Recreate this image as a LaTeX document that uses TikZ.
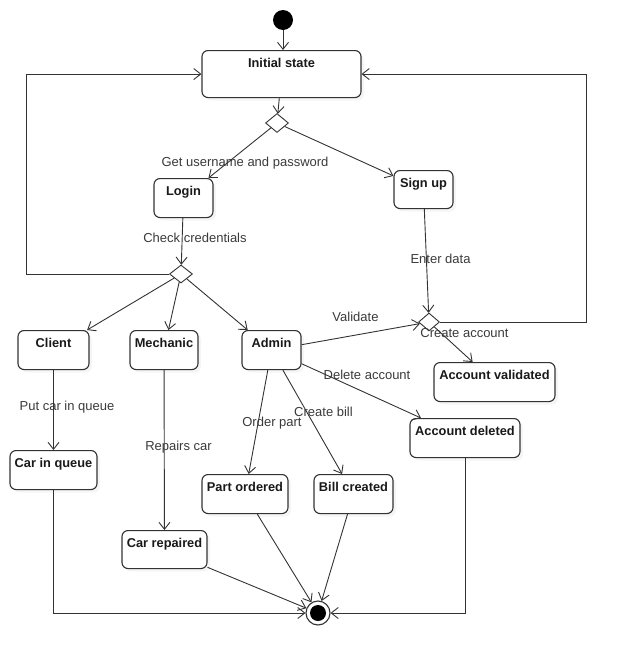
\documentclass[tikz,border=0pt]{standalone}
\usepackage{fontspec}
\setmainfont{Liberation Sans}
\usepackage{tikz}
\usetikzlibrary{shapes.geometric}
\usetikzlibrary{arrows.meta}
\usetikzlibrary{shadows}
\definecolor{linec}{HTML}{333333}
\definecolor{textc}{HTML}{3A3A3A}
\tikzstyle{state}=[draw=linec, fill=white, line width=1.1pt, rounded corners=6pt, anchor=north, inner xsep=0pt, inner ysep=0pt, text height=17pt, text depth=22pt, font=\bfseries\fontsize{12.8}{15}\selectfont, text=black!90, drop shadow={shadow xshift=3pt, shadow yshift=-3pt, opacity=0.08}]
\tikzstyle{decision}=[draw=linec, fill=white, line width=0.9pt, diamond, inner sep=0pt, minimum width=23pt, minimum height=19pt]
\tikzstyle{lbl}=[inner sep=0pt, text height=9pt, text depth=3pt, font=\fontsize{13}{15}\selectfont, text=textc]
\tikzstyle{arr}=[draw=linec, line width=0.9pt, -{Straight Barb[length=7pt, width=11pt]}]

\begin{document}
\begin{tikzpicture}[x=1pt, y=-1pt]
        \useasboundingbox (0,0) rectangle (627,667);
        \node[circle, fill=black, minimum size=20pt, inner sep=0pt] (start) at (283,20) {};
        \node[state, minimum width=159pt, text depth=30pt] (init) at (281.5,50) {Initial state};
        \node[decision] (d1) at (277,123) {};
        \node[state, minimum width=59pt] (login) at (183.5,178) {Login};
        \node[state, minimum width=59pt, text depth=21pt] (signup) at (423.5,170) {Sign up};
        \node[decision, minimum height=18pt] (d2) at (181,274) {};
        \node[decision, minimum width=21pt, minimum height=18pt] (d3) at (429,322) {};
        \node[state, minimum width=71pt] (client) at (53.5,330) {Client};
        \node[state, minimum width=68pt] (mechanic) at (164,330) {Mechanic};
        \node[state, minimum width=59pt] (admin) at (271.5,330) {Admin};
        \node[state, minimum width=87pt] (queue) at (53.5,450) {Car in queue};
        \node[state, minimum width=85pt, text depth=21pt] (repaired) at (164.5,530) {Car repaired};
        \node[state, minimum width=86pt] (partord) at (245,474) {Part ordered};
        \node[state, minimum width=79pt] (bill) at (353.5,474) {Bill created};
        \node[state, minimum width=121pt] (validated) at (494.5,362) {Account validated};
        \node[state, minimum width=110pt] (deleted) at (465,418) {Account deleted};
        \node[circle, draw=linec, fill=white, line width=1.1pt, minimum size=24pt, inner sep=0pt] (final) at (318,613) {};
        \node[circle, fill=black, minimum size=16pt, inner sep=0pt] (finaldot) at (final) {};
        \coordinate (loopl) at (26,0);
        \coordinate (loopr) at (586,0);
        \node[lbl] (lgetuser) at (245,163) {Get username and password};
        \node[lbl] (lcheck) at (195,239) {Check credentials};
        \node[lbl] (lenter) at (440.5,260) {Enter data};
        \node[lbl] (lqueue) at (67,407) {Put car in queue};
        \node[lbl] (lrepairs) at (178.5,447) {Repairs car};
        \node[lbl] (lorder) at (272,423) {Order part};
        \node[lbl] (lbill) at (323.5,413) {Create bill};
        \node[lbl] (lvalidate) at (355.5,318) {Validate};
        \node[lbl] (lcreate) at (464.5,334) {Create account};
        \node[lbl] (ldelete) at (367,376) {Delete account};
        \draw[arr] (start) -- (start |- init.north);
        \draw[arr] (init) -- (d1);
        \draw[arr] (d1) -- (login);
        \draw[arr] (d1) -- (signup);
        \draw[arr] (login) -- (d2);
        \draw[arr] (d2.west) -- (d2.west -| loopl) |- (init.west);
        \draw[arr] (signup) -- (d3);
        \draw[arr] (d3.east) -- (d3.east -| loopr) |- (init.east);
        \draw[arr] (d2) -- (client);
        \draw[arr] (d2) -- (mechanic);
        \draw[arr] (d2) -- (admin);
        \draw[arr] (client) -- (queue);
        \draw[arr] (mechanic) -- (repaired);
        \draw[arr] (admin) -- (partord);
        \draw[arr] (admin) -- (bill);
        \draw[arr] (admin) -- (d3);
        \draw[arr] (d3) -- (validated);
        \draw[arr] (admin) -- (deleted);
        \draw[arr] (queue) |- (final);
        \draw[arr] (repaired) -- (final);
        \draw[arr] (partord) -- (final);
        \draw[arr] (bill) -- (final);
        \draw[arr] (deleted) |- (final);
    \end{tikzpicture}
\end{document}
